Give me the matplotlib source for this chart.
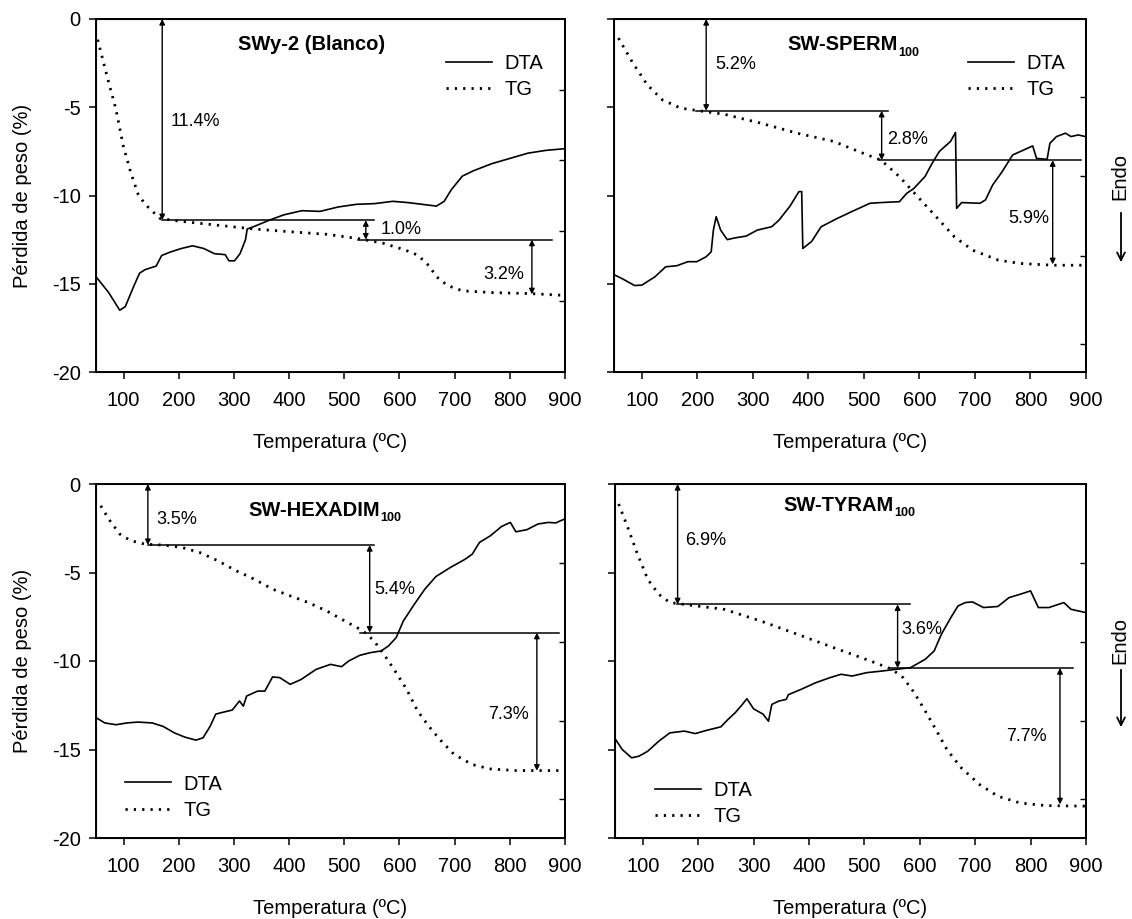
import matplotlib
matplotlib.use("Agg")
import matplotlib.pyplot as plt
import matplotlib.transforms as mtransforms

plt.rcParams['font.family'] = ['Liberation Sans', 'DejaVu Sans']
plt.rcParams['axes.unicode_minus'] = False

# ---------------- data ----------------
# Panel 1: SWy-2 (Blanco)
tg1_x = [53, 73, 86, 99.5, 113, 126, 139, 166, 200, 260, 337, 400, 469, 529, 570, 601, 620, 634, 654, 667, 687, 714, 767, 839, 899]
tg1_y = [-1.17, -3.6, -5.1, -7.2, -8.7, -9.9, -10.5, -11.3, -11.45, -11.65, -11.9, -12.05, -12.2, -12.46, -12.7, -13.0, -13.2, -13.4, -14.0, -14.6, -15.1, -15.4, -15.5, -15.56, -15.66]
dta1_x = [50, 73, 93, 103, 119, 129, 139, 159, 169, 185, 205, 225, 245, 265, 284, 291, 301, 311, 321, 324, 337, 364, 390, 423, 456, 489, 522, 555, 588, 615, 641, 667, 681, 694, 714, 734, 767, 800, 833, 866, 899]
dta1_y = [-14.6, -15.5, -16.5, -16.3, -15.1, -14.4, -14.2, -14.0, -13.4, -13.2, -13.0, -12.85, -13.0, -13.3, -13.35, -13.7, -13.7, -13.3, -12.5, -11.9, -11.75, -11.4, -11.1, -10.86, -10.9, -10.65, -10.5, -10.46, -10.33, -10.4, -10.5, -10.6, -10.33, -9.67, -8.9, -8.6, -8.2, -7.9, -7.6, -7.44, -7.35]

# Panel 2: SW-SPERM100
tg2_x = [58, 84, 110, 137, 170, 199, 249, 314, 380, 446, 498, 531, 564, 597, 630, 663, 696, 742, 781, 840, 899]
tg2_y = [-1.08, -2.5, -3.73, -4.58, -5.05, -5.18, -5.4, -5.9, -6.47, -6.94, -7.6, -8.0, -8.93, -10.07, -11.2, -12.34, -13.1, -13.66, -13.85, -13.95, -13.95]
dta2_x = [51, 64, 87, 100, 124, 143, 163, 183, 199, 216, 225, 229, 234, 242, 254, 268, 288, 308, 334, 347, 367, 383, 388, 390, 406, 423, 452, 479, 511, 531, 564, 577, 590, 610, 623, 636, 656, 665, 667, 676, 709, 719, 732, 749, 768, 788, 804, 811, 830, 835, 847, 863, 873, 886, 899]
dta2_y = [-14.5, -14.7, -15.1, -15.08, -14.6, -14.04, -13.98, -13.75, -13.75, -13.47, -13.19, -11.96, -11.2, -11.96, -12.5, -12.4, -12.3, -11.96, -11.77, -11.4, -10.6, -9.78, -9.78, -13.0, -12.6, -11.77, -11.3, -10.9, -10.44, -10.4, -10.35, -9.88, -9.6, -8.93, -8.17, -7.5, -6.94, -6.43, -10.73, -10.4, -10.44, -10.25, -9.4, -8.65, -7.7, -7.42, -7.19, -7.9, -7.95, -7.04, -6.66, -6.47, -6.66, -6.57, -6.66]

# Panel 3: SW-HEXADIM100
tg3_x = [58.6, 73, 93, 113, 139, 172, 205, 238, 271, 304, 337, 370, 402, 435, 468, 501, 534, 554, 574, 594, 613, 633, 653, 673, 699, 732, 765, 811, 851, 897]
tg3_y = [-1.23, -1.98, -2.83, -3.2, -3.4, -3.45, -3.58, -3.87, -4.34, -4.9, -5.38, -5.94, -6.32, -6.7, -7.17, -7.74, -8.3, -8.87, -9.72, -10.66, -11.6, -12.83, -13.68, -14.43, -15.28, -15.85, -16.1, -16.19, -16.19, -16.19]
dta3_x = [50, 66, 86, 106, 126, 152, 172, 192, 211, 231, 244, 257, 267, 277, 297, 310, 317, 323, 343, 356, 370, 383, 402, 422, 449, 475, 495, 508, 528, 547, 567, 580, 594, 607, 627, 646, 666, 692, 719, 732, 745, 765, 785, 801, 811, 831, 851, 870, 883, 899]
dta3_y = [-13.2, -13.5, -13.6, -13.5, -13.45, -13.5, -13.7, -14.06, -14.3, -14.47, -14.34, -13.68, -13.0, -12.92, -12.77, -12.26, -12.55, -11.98, -11.7, -11.7, -10.9, -10.94, -11.32, -11.04, -10.47, -10.19, -10.32, -10.0, -9.68, -9.53, -9.43, -9.15, -8.68, -7.74, -6.79, -5.94, -5.23, -4.72, -4.25, -3.96, -3.3, -2.92, -2.4, -2.17, -2.7, -2.58, -2.26, -2.17, -2.2, -1.98]

# Panel 4: SW-TYRAM100
tg4_x = [56.6, 73, 89.5, 109, 129, 149, 182, 247, 313, 379, 445, 511, 550, 570, 590, 610, 629, 649, 675, 708, 741, 781, 827, 899]
tg4_y = [-1.13, -2.45, -3.87, -5.38, -6.23, -6.7, -6.83, -7.08, -7.74, -8.49, -9.25, -10.0, -10.47, -10.94, -11.79, -12.83, -13.87, -15.0, -16.04, -16.98, -17.64, -18.02, -18.17, -18.2]
dta4_x = [51, 63, 80, 93, 109, 129, 149, 175, 195, 215, 241, 254, 267, 280, 288, 300, 317, 327, 333, 346, 359, 363, 386, 412, 438, 458, 478, 504, 531, 557, 583, 610, 626, 639, 656, 669, 682, 695, 715, 741, 761, 781, 800, 807, 814, 833, 860, 873, 886, 899]
dta4_y = [-14.43, -15.0, -15.47, -15.38, -15.1, -14.53, -14.06, -13.96, -14.1, -13.92, -13.72, -13.3, -12.92, -12.45, -12.13, -12.7, -13.0, -13.4, -12.45, -12.26, -12.17, -11.9, -11.6, -11.23, -10.94, -10.75, -10.85, -10.66, -10.57, -10.47, -10.38, -9.9, -9.43, -8.49, -7.55, -6.89, -6.7, -6.66, -6.98, -6.92, -6.42, -6.23, -6.04, -6.51, -6.98, -6.98, -6.7, -7.08, -7.17, -7.26]

titles = ["SWy-2 (Blanco)", "SW-SPERM", "SW-HEXADIM", "SW-TYRAM"]
title_subs = ["", "100", "100", "100"]

# mass-loss step annotations: (x of arrow, y top, y bottom, label, label x, label y, label align)
steps1 = [(170, 0.0, -11.4, "11.4%", 185, -5.8, 'left'),
          (539, -11.4, -12.5, "1.0%", 565, -11.94, 'left'),
          (840, -12.5, -15.6, "3.2%", 826, -14.5, 'right')]
hlines1 = [(-11.4, 170, 553), (-12.5, 525, 876)]
steps2 = [(216, 0.0, -5.2, "5.2%", 232, -2.6, 'left'),
          (532, -5.2, -8.0, "2.8%", 541, -6.8, 'left'),
          (840, -8.0, -13.9, "5.9%", 834, -11.3, 'right')]
hlines2 = [(-5.2, 197, 544), (-8.0, 528, 891)]
steps3 = [(144, 0.0, -3.45, "3.5%", 159, -1.98, 'left'),
          (546, -3.45, -8.4, "5.4%", 554, -5.94, 'left'),
          (849, -8.4, -16.2, "7.3%", 834, -13.0, 'right')]
hlines3 = [(-3.45, 144, 554), (-8.4, 528, 890)]
steps4 = [(163, 0.0, -6.8, "6.9%", 176, -3.2, 'left'),
          (560, -6.8, -10.4, "3.6%", 567, -8.2, 'left'),
          (853, -10.4, -18.1, "7.7%", 830, -14.25, 'right')]
hlines4 = [(-6.8, 161, 582), (-10.4, 547, 876)]

x_ticks = [100, 200, 300, 400, 500, 600, 700, 800, 900]
y_ticks = [0, -5, -10, -15, -20]

# ---------------- figure ----------------
W, H = 1132, 919
fig = plt.figure(figsize=(W / 100, H / 100), dpi=100)

def rect(l, t, r, b):
    return [l / W, 1 - b / H, (r - l) / W, (b - t) / H]

rects = [rect(96, 19, 565, 372), rect(614, 19, 1086, 372),
         rect(96, 484, 565, 838), rect(615, 484, 1086, 838)]
right_ticks = [[0.2, 0.4, 0.6, 0.8], [0.08, 0.33, 0.555, 0.78],
               [0.11, 0.331, 0.554, 0.777], [0.11, 0.331, 0.554, 0.777]]
title_pos = [(0.4606, 0.911, 'center'), (0.602, 0.911, 'right'),
             (0.606, 0.911, 'right'), (0.592, 0.925, 'right')]
legend_cfg = [('upper right', (0.953, 0.90)), ('upper right', (0.955, 0.90)),
              ('lower left', (0.062, 0.052)), ('lower left', (0.085, 0.035))]

panels = [(tg1_x, tg1_y, dta1_x, dta1_y, steps1, hlines1),
          (tg2_x, tg2_y, dta2_x, dta2_y, steps2, hlines2),
          (tg3_x, tg3_y, dta3_x, dta3_y, steps3, hlines3),
          (tg4_x, tg4_y, dta4_x, dta4_y, steps4, hlines4)]

FS = 14.5
dot_style = (0, (0.8, 2.2))

for i, (tx, ty, dx, dy, steps, hls) in enumerate(panels):
    ax = fig.add_axes(rects[i])
    ax.plot(dx, dy, color='black', lw=1.2, label='DTA')
    ax.plot(tx, ty, color='black', lw=2.0, linestyle=dot_style, label='TG')
    ax.set_xlim(50, 900)
    ax.set_ylim(-20, 0)
    ax.set_xticks(x_ticks)
    ax.set_yticks(y_ticks)
    ax.tick_params(axis='both', direction='out', length=5, width=1.1,
                   labelsize=FS, pad=6)
    ax.tick_params(axis='x', pad=9)
    for sp in ax.spines.values():
        sp.set_linewidth(1.4)
    if i % 2 == 0:
        ax.set_ylabel("Pérdida de peso (%)", fontsize=FS, labelpad=14)
    else:
        ax.tick_params(axis='y', labelleft=False)
    ax.set_xlabel("Temperatura (ºC)", fontsize=FS, labelpad=16)

    # right-hand (DTA) axis ticks, unlabeled
    ax2 = ax.twinx()
    ax2.set_ylim(0, 1)
    ax2.set_yticks(right_ticks[i])
    ax2.tick_params(axis='y', direction='in', length=4, width=1.0, labelright=False)
    ax2.spines['right'].set_linewidth(1.4)

    # step lines and arrows
    for (y, x0, x1) in hls:
        ax.plot([x0, x1], [y, y], color='black', lw=1.1)
    for (xa, y0, y1, lab, lx, ly, ha) in steps:
        ax.annotate('', xy=(xa, y1), xytext=(xa, y0),
                    arrowprops=dict(arrowstyle='<|-|>', lw=1.0, color='black',
                                    shrinkA=0, shrinkB=0, mutation_scale=8))
        ax.text(lx, ly, lab, ha=ha, va='center', fontsize=13)

    # title (bold, with subscript)
    tx_, ty_, tha = title_pos[i]
    ax.text(tx_, ty_, titles[i], transform=ax.transAxes, ha=tha, va='baseline',
            fontsize=FS, fontweight='bold')
    if title_subs[i]:
        off = mtransforms.offset_copy(ax.transAxes, fig=fig, x=0, y=-4, units='points')
        ax.text(tx_, ty_, title_subs[i], transform=off, ha='left', va='baseline',
                fontsize=9, fontweight='bold')

    loc, anchor = legend_cfg[i]
    ax.legend(loc=loc, bbox_to_anchor=anchor, frameon=False, fontsize=FS,
              handlelength=2.3, handletextpad=0.6, labelspacing=0.35,
              borderpad=0, borderaxespad=0)

# "Endo" markers with arrows
for (cy, ay0, ay1) in [(177, 210, 265), (640, 667, 730)]:
    fig.text(1120 / W, 1 - cy / H, "Endo", rotation=90, ha='center', va='center',
             fontsize=FS)
    fig.add_artist(matplotlib.patches.FancyArrowPatch(
        (1121 / W, 1 - ay0 / H), (1121 / W, 1 - ay1 / H),
        transform=fig.transFigure, arrowstyle='->', mutation_scale=14,
        lw=1.3, color='black'))

fig.savefig("out.png", dpi=100)
